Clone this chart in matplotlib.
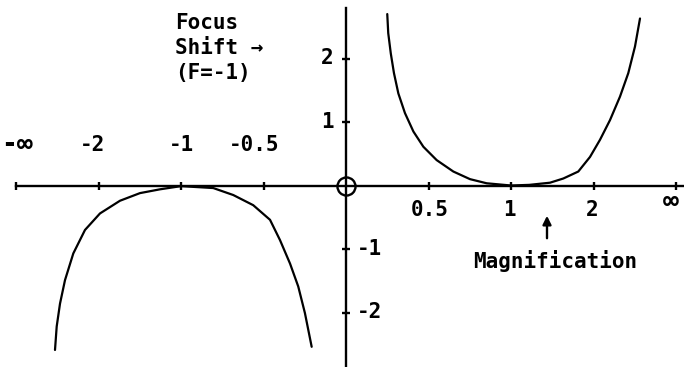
import numpy as np
import matplotlib
matplotlib.use("Agg")
import matplotlib.pyplot as plt

# Magnification -> focus shift (F = -1)
mag_pos = [0.293, 0.298, 0.311, 0.327, 0.349, 0.382, 0.424, 0.474, 0.542, 0.631, 0.726, 0.829,
           1.0, 1.15, 1.355, 1.513, 1.727, 1.931, 2.141, 2.398, 2.723, 3.070, 3.429, 3.762]
shift_pos = [2.70, 2.40, 2.08, 1.77, 1.45, 1.14, 0.85, 0.61, 0.40, 0.22, 0.10, 0.035,
             0.0, 0.01, 0.044, 0.11, 0.22, 0.45, 0.72, 1.03, 1.40, 1.77, 2.19, 2.63]

mag_neg = [-3.554, -3.447, -3.257, -3.010, -2.676, -2.315, -1.970, -1.632, -1.378, -1.175, -1.0,
           -0.779, -0.661, -0.553, -0.467, -0.417, -0.367, -0.326, -0.292, -0.257]
shift_neg = [-2.59, -2.22, -1.86, -1.49, -1.07, -0.70, -0.44, -0.24, -0.12, -0.06, -0.01,
             -0.04, -0.15, -0.31, -0.54, -0.86, -1.23, -1.59, -2.01, -2.54]

x_ticks = [-np.inf, -2, -1, -0.5, 0.5, 1, 2, np.inf]
x_tick_labels = ["-∞", "-2", "-1", "-0.5", "0.5", "1", "2", "∞"]
y_ticks = [2, 1, -1, -2]
y_tick_labels = ["2", "1", "-1", "-2"]

# compress the whole real line into (-1, 1) so that +/- infinity fits
P = np.log2(3)


def squash(m):
    m = np.asarray(m, dtype=float)
    a = np.abs(m)
    with np.errstate(invalid="ignore"):
        u = np.where(np.isinf(a), 1.0, a**P / (1 + a**P))
    return np.sign(m) * u


W, H = 684, 367
ox, oy = 346, 185.5        # origin in pixels
sx, sy = 330, 63.5         # pixels per unit

fig = plt.figure(figsize=(W / 100, H / 100), dpi=100)
ax = fig.add_axes([0, 0, 1, 1])
ax.set_xlim(-ox / sx, (W - ox) / sx)
ax.set_ylim(-(H - oy) / sy, oy / sy)

ink = "black"
lw = 1.6

ax.plot(squash(mag_pos), shift_pos, color=ink, lw=lw, solid_capstyle="round", solid_joinstyle="round")
ax.plot(squash(mag_neg), shift_neg, color=ink, lw=lw, solid_capstyle="round", solid_joinstyle="round")

# axes through the origin
for s in ["top", "right"]:
    ax.spines[s].set_visible(False)
ax.spines["bottom"].set_position(("data", 0))
ax.spines["left"].set_position(("data", 0))
ax.spines["bottom"].set_bounds(-1, (W - ox) / sx)
ax.spines["left"].set_bounds(-(H - oy) / sy, (oy - 8) / sy)
for s in ["bottom", "left"]:
    ax.spines[s].set_linewidth(1.7)
ax.set_xticks(squash(x_ticks))
ax.set_yticks(y_ticks)
ax.set_xticklabels([])
ax.set_yticklabels([])
ax.tick_params(direction="inout", length=6, width=1.7, colors=ink)

# small circle marking the origin
ax.plot([0], [0], marker="o", ms=13, mfc="none", mec=ink, mew=1.7)

font = dict(family="DejaVu Sans Mono", fontsize=15, fontweight="bold", color=ink)
big = dict(font, fontsize=19)

# x tick labels: negatives above the axis, positives below
x_off = {"-∞": (1, 29), "-2": (-4, 29), "-1": (0, 29), "-0.5": (-7, 29),
         "0.5": (1, -18), "1": (-1, -18), "2": (-1, -18), "∞": (-4, -12)}
for v, lab in zip(x_ticks, x_tick_labels):
    dx, dy = x_off[lab]
    ax.annotate(lab, xy=(float(squash(v)), 0), xytext=(dx, dy), textcoords="offset points",
                ha="center", va="center", annotation_clip=False,
                **(big if "∞" in lab else font))

for v, lab in zip(y_ticks, y_tick_labels):
    if v > 0:
        ax.annotate(lab, xy=(0, v), xytext=(-9, 0), textcoords="offset points",
                    ha="right", va="center", **font)
    else:
        ax.annotate(lab, xy=(0, v), xytext=(8, 0), textcoords="offset points",
                    ha="left", va="center", **font)

ax.text(175 / W, 1 - 13 / H, "Focus\nShift →\n(F=-1)", transform=ax.transAxes,
        ha="left", va="top", linespacing=1.3, **font)

ax.text(555 / W, 1 - 261 / H, "Magnification", transform=ax.transAxes,
        ha="center", va="center", **font)
ax.annotate("", xy=(547 / W, 1 - 213 / H), xytext=(547 / W, 1 - 241 / H),
            xycoords="axes fraction", textcoords="axes fraction",
            arrowprops=dict(arrowstyle="-|>,head_length=0.5,head_width=0.25", color=ink, lw=1.7))

fig.savefig("out.png", dpi=100, facecolor="white")
